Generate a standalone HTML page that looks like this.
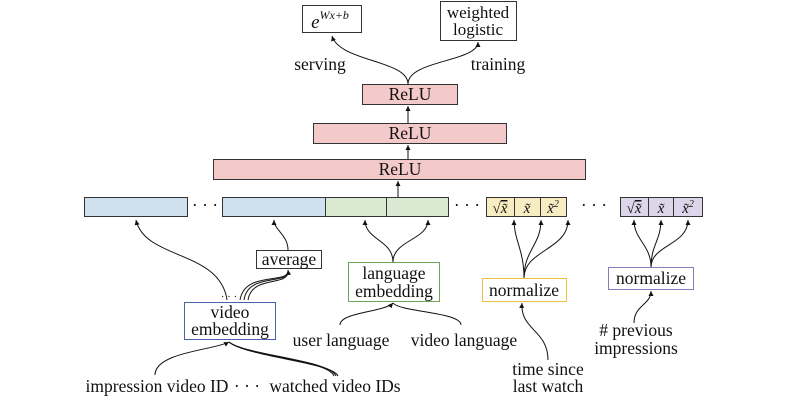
<!DOCTYPE html>
<html><head><meta charset="utf-8"><style>
body{margin:0;background:#fff;}
svg{display:block;font-family:"Liberation Serif",serif;}
text{font-size:17.5px;fill:#111;text-anchor:middle;}
.i{font-style:italic;}
</style></head><body>
<svg width="801" height="400" viewBox="0 0 801 400">
<defs><marker id="a" markerWidth="6" markerHeight="6" refX="5" refY="3" orient="auto"><path d="M0,0.5 L5,3 L0,5.5 z" fill="#111"/></marker></defs>
<g fill="none" stroke="#111" stroke-width="1">
<path d="M408,84 C408,60 340,62 332,36" marker-end="url(#a)"/>
<path d="M408,84 C408,60 478,62 478,42" marker-end="url(#a)"/>
<path d="M408,123 L408,106" marker-end="url(#a)"/>
<path d="M408,159 L408,145" marker-end="url(#a)"/>
<path d="M398,197 L398,181" marker-end="url(#a)"/>
<path d="M227,300 C220,250 145,260 136,220" marker-end="url(#a)"/>
<path d="M240,300 C245,270 290,285 288,270" marker-end="url(#a)"/>
<path d="M244,300 C248,272 290,286 288,270"/>
<path d="M248,300 C252,274 290,288 288,270"/>
<path d="M288,250 C288,235 274,230 274,220" marker-end="url(#a)"/>
<path d="M155,375 C155,352 215,350 229,342" marker-end="url(#a)"/>
<path d="M336,376 C330,360 245,355 229,342"/>
<path d="M338,376 C332,362 247,357 229,342"/>
<path d="M334,376 C328,360 243,355 229,342"/>
<path d="M393,262 C393,240 365,240 365,220" marker-end="url(#a)"/>
<path d="M393,262 C393,240 428,240 428,220" marker-end="url(#a)"/>
<path d="M340,325 C340,312 385,312 393,303" marker-end="url(#a)"/>
<path d="M461,325 C461,312 400,312 393,303"/>
<path d="M524,278 C524,250 514,240 514,220" marker-end="url(#a)"/>
<path d="M524,278 C524,250 541,245 541,220" marker-end="url(#a)"/>
<path d="M524,278 C524,250 568,250 568,220" marker-end="url(#a)"/>
<path d="M548,360 C548,330 520,330 522,303" marker-end="url(#a)"/>
<path d="M651,267 C651,245 634,240 634,220" marker-end="url(#a)"/>
<path d="M651,267 C651,245 661,240 661,220" marker-end="url(#a)"/>
<path d="M651,267 C651,245 688,245 688,220" marker-end="url(#a)"/>
<path d="M634,323 C634,305 651,305 651,291" marker-end="url(#a)"/>
</g>
<g stroke="#333" stroke-width="1">
<rect x="302.5" y="5.5" width="59" height="27" fill="#fff"/>
<rect x="440.5" y="1.5" width="76" height="39" fill="#fff"/>
<rect x="362.5" y="84.5" width="95" height="20" fill="#f4c9c9"/>
<rect x="313.5" y="123.5" width="193" height="20" fill="#f4c9c9"/>
<rect x="213.5" y="159.5" width="372" height="20" fill="#f4c9c9"/>
<rect x="84.5" y="197.5" width="103" height="19" fill="#cfe0ef"/>
<rect x="222.5" y="197.5" width="103" height="19" fill="#cfe0ef"/>
<rect x="325.5" y="197.5" width="61" height="19" fill="#d9e9d2"/>
<rect x="386.5" y="197.5" width="62" height="19" fill="#d9e9d2"/>
<rect x="486.5" y="197.5" width="28" height="19" fill="#f8edc2"/>
<rect x="514.5" y="197.5" width="26" height="19" fill="#f8edc2"/>
<rect x="540.5" y="197.5" width="26" height="19" fill="#f8edc2"/>
<rect x="620.5" y="197.5" width="28" height="19" fill="#ddd6ea"/>
<rect x="648.5" y="197.5" width="25" height="19" fill="#ddd6ea"/>
<rect x="673.5" y="197.5" width="29" height="19" fill="#ddd6ea"/>
<rect x="256.5" y="250.5" width="65" height="18" fill="#fff"/>
</g>
<rect x="184.5" y="302.5" width="91" height="37" fill="#fff" stroke="#4a62a8"/>
<rect x="348.5" y="262.5" width="91" height="39" fill="#fff" stroke="#6aa55a"/>
<rect x="482.5" y="278.5" width="84" height="23" fill="#fff" stroke="#f0c040"/>
<rect x="608.5" y="267.5" width="85" height="22" fill="#fff" stroke="#8a7ab8"/>
<text x="330" y="28" class="i" style="font-size:19px">e<tspan dy="-9" style="font-size:12px">Wx+b</tspan></text>
<text x="478" y="18" style="font-size:17px">weighted</text>
<text x="478" y="35" style="font-size:17px">logistic</text>
<text x="320" y="70">serving</text>
<text x="498" y="70">training</text>
<text x="410" y="100">ReLU</text>
<text x="410" y="139">ReLU</text>
<text x="400" y="175">ReLU</text>
<text x="205" y="211">· · ·</text>
<text x="467" y="211">· · ·</text>
<text x="594" y="211">· · ·</text>
<text x="500" y="213" style="font-size:15px">√<tspan class="i" style="text-decoration:overline">x̃</tspan></text>
<text x="527" y="213" class="i" style="font-size:15px">x̃</text>
<text x="553" y="213" class="i" style="font-size:15px">x̃<tspan dy="-6" style="font-size:10px">2</tspan></text>
<text x="634" y="213" style="font-size:15px">√<tspan class="i" style="text-decoration:overline">x̃</tspan></text>
<text x="661" y="213" class="i" style="font-size:15px">x̃</text>
<text x="688" y="213" class="i" style="font-size:15px">x̃<tspan dy="-6" style="font-size:10px">2</tspan></text>
<text x="289" y="265">average</text>
<text x="229" y="300" style="font-size:11px">· · ·</text>
<text x="230" y="318">video</text>
<text x="230" y="335">embedding</text>
<text x="394" y="279">language</text>
<text x="394" y="297">embedding</text>
<text x="524" y="296">normalize</text>
<text x="651" y="284">normalize</text>
<text x="341" y="346">user language</text>
<text x="464" y="346">video language</text>
<text x="636" y="336"># previous</text>
<text x="636" y="354">impressions</text>
<text x="548" y="375">time since</text>
<text x="548" y="392">last watch</text>
<text x="157" y="392">impression video ID</text>
<text x="247" y="392">· · ·</text>
<text x="335" y="392">watched video IDs</text>
</svg>
</body></html>
